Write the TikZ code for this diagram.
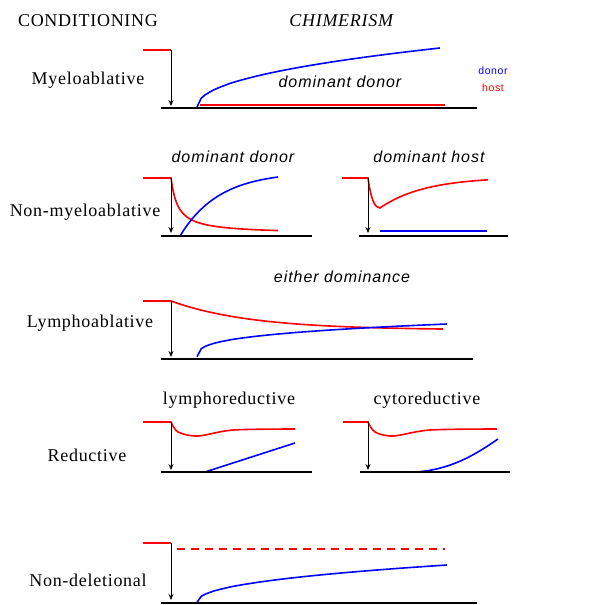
\documentclass[tikz,border=0pt]{standalone}
\usepackage{fontspec}
\setmainfont{Liberation Serif}[LetterSpace=4]
\newfontfamily\curvefont{Liberation Sans}[LetterSpace=6]
\usetikzlibrary{arrows.meta}

\begin{document}
\begin{tikzpicture}[x=1pt, y=-1pt,
  rowlbl/.style={font=\fontsize{18}{20}\selectfont},
  headlbl/.style={font=\fontsize{18}{20}\selectfont},
  domlbl/.style={font=\curvefont\itshape\fontsize{16}{18}\selectfont},
  keylbl/.style={font=\curvefont\fontsize{10.5}{12}\selectfont},
  baseln/.style={black, line width=1.6pt},
  drop/.style={-{Stealth[length=6pt,width=5pt]}, black, line width=0.8pt},
  donor/.style={blue, line width=1.6pt},
  host/.style={red, line width=1.6pt}
]
\useasboundingbox (0,0) rectangle (600,605);

% headings
\node[headlbl] (cond) at (88,21) {CONDITIONING};
\node[headlbl] (chim) at (342,21) {\textit{CHIMERISM}};

% myeloablative
\node[rowlbl] (myelo) at (88,80) {Myeloablative};
\node[domlbl] (myelodom) at (340,82) {dominant donor};
\node[keylbl, text=blue] (keydonor) at (493,71) {donor};
\node[keylbl, text=red] (keyhost) at (493,88) {host};
\coordinate (myelotop) at (171,50);
\coordinate (myelobot) at (171,106);
\draw[host] (143,50) -- (myelotop);
\draw[host] (200,105) -- (445,105);
\draw[donor] plot[domain=0.0001:1, samples=60] ({197+243*\x},{108-60*pow(\x,0.45)});
\draw[baseln] (161,108) -- (477,108);
\draw[drop] (myelotop) -- (myelobot);

% non-myeloablative
\node[domlbl] (nmdomdonor) at (233,157) {dominant donor};
\node[domlbl] (nmdomhost) at (429,157) {dominant host};
\node[rowlbl] (nonmyelo) at (85,212) {Non-myeloablative};
\coordinate (nmltop) at (171,178);
\coordinate (nmlbot) at (171,233);
\coordinate (nmrtop) at (368,178);
\coordinate (nmrbot) at (368,233);
\draw[host] (143,178) -- (nmltop) -- plot[domain=0:107, samples=60] ({171+\x},{234-56/(1+\x/7)});
\draw[donor] plot[domain=0.0001:1, samples=50] ({180+98*\x},{236-59*(1-exp(-2.5*\x))/(1-exp(-2.5))});
\draw[baseln] (161,236) -- (312,236);
\draw[drop] (nmltop) -- (nmlbot);
\draw[host] (342,178) -- (nmrtop) .. controls (371,200) and (375,208) .. (380,208)
  -- plot[domain=0:108, samples=50] ({380+\x},{177+31*exp(-\x/45)});
\draw[donor] (380,231) -- (487,231);
\draw[baseln] (359,236) -- (508,236);
\draw[drop] (nmrtop) -- (nmrbot);

% lymphoablative
\node[domlbl] (lydom) at (342,277) {either dominance};
\node[rowlbl] (lympho) at (90,323) {Lymphoablative};
\coordinate (lytop) at (171,301);
\coordinate (lybot) at (171,357);
\draw[host] (143,301) -- (lytop) -- plot[domain=0:272, samples=60] ({171+\x},{330-29*exp(-\x/80)});
\draw[donor] plot[domain=0.0001:1, samples=60] ({197+250*\x},{359-35*pow(\x,0.3)});
\draw[baseln] (161,359) -- (473,359);
\draw[drop] (lytop) -- (lybot);

% reductive
\node[rowlbl] (lymred) at (229,400) {lymphoreductive};
\node[rowlbl] (cytred) at (427,400) {cytoreductive};
\node[rowlbl] (reduct) at (87,455) {Reductive};
\coordinate (rdltop) at (171,422);
\coordinate (rdlbot) at (171,470);
\coordinate (rdrtop) at (368,422);
\coordinate (rdrbot) at (368,470);
\draw[host] (143,422) -- plot[smooth] coordinates {(171,422) (178,432) (198,436) (233,430) (295,429)};
\draw[donor] (205,472) -- (295,443);
\draw[baseln] (161,472) -- (312,472);
\draw[drop] (rdltop) -- (rdlbot);
\draw[host] (343,422) -- plot[smooth] coordinates {(368,422) (375,432) (393,436) (430,430) (497,429)};
\draw[donor] (398,472) -- (415,472) .. controls (450,470) and (475,455) .. (498,439);
\draw[baseln] (360,472) -- (510,472);
\draw[drop] (rdrtop) -- (rdrbot);

% non-deletional
\node[rowlbl] (nondel) at (88,580) {Non-deletional};
\coordinate (ndtop) at (171,543);
\coordinate (ndbot) at (171,600);
\draw[host] (143,543) -- (ndtop);
\draw[host, dash pattern=on 8pt off 6pt] (177,549) -- (445,549);
\draw[donor] plot[domain=0.0001:1, samples=60] ({197+250*\x},{603-38*pow(\x,0.43)});
\draw[baseln] (161,603) -- (477,603);
\draw[drop] (ndtop) -- (ndbot);
\end{tikzpicture}
\end{document}
